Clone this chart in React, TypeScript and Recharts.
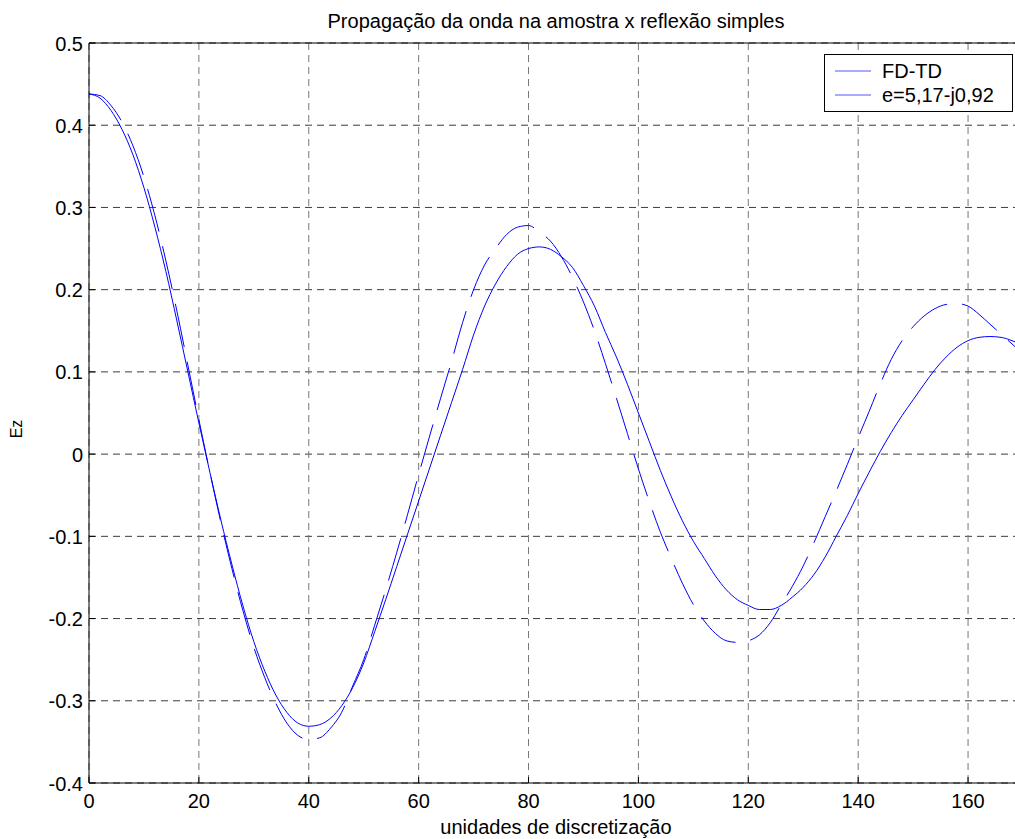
import { LineChart, Line, XAxis, YAxis, CartesianGrid, ReferenceLine } from 'recharts';

const FONT = '"Liberation Sans", Arial, Helvetica, sans-serif';

// sample positions (discretization units)
const steps = [
  0, 2, 4, 6, 8, 10, 12, 14, 16, 18, 20, 22, 24, 26, 28, 30, 32, 34, 36, 38,
  40, 42, 44, 46, 48, 50, 52, 54, 56, 58, 60, 62, 64, 66, 68, 70, 72, 74, 76, 78,
  80, 82, 84, 86, 88, 90, 92, 94, 96, 98, 100, 102, 104, 106, 108, 110, 112, 114, 116, 118,
  120, 122, 124, 126, 128, 130, 132, 134, 136, 138, 140, 142, 144, 146, 148, 150, 152, 154, 156, 158,
  160, 162, 164, 166, 168, 170,
];

// FD-TD field
const fdtd = [
  0.438, 0.433, 0.418, 0.395, 0.364, 0.324, 0.276, 0.222, 0.162, 0.1, 0.038, -0.022, -0.08, -0.134, -0.184, -0.228, -0.264, -0.293, -0.314, -0.327,
  -0.331, -0.329, -0.321, -0.306, -0.284, -0.254, -0.216, -0.177, -0.137, -0.097, -0.057, -0.017, 0.023, 0.063, 0.103, 0.145, 0.18, 0.207, 0.228, 0.243,
  0.25, 0.252, 0.249, 0.24, 0.227, 0.205, 0.18, 0.148, 0.118, 0.085, 0.05, 0.015, -0.02, -0.052, -0.081, -0.106, -0.127, -0.148, -0.165, -0.177,
  -0.184, -0.189, -0.189, -0.184, -0.174, -0.162, -0.146, -0.125, -0.1, -0.075, -0.048, -0.022, 0.003, 0.026, 0.047, 0.066, 0.085, 0.103, 0.118, 0.13,
  0.138, 0.142, 0.143, 0.142, 0.138, 0.132,
];

// simple reflection model, e = 5,17 - j0,92
const simple = [
  0.438, 0.436, 0.424, 0.404, 0.375, 0.337, 0.29, 0.235, 0.174, 0.108, 0.042, -0.022, -0.083, -0.139, -0.19, -0.235, -0.272, -0.303, -0.327, -0.342,
  -0.347, -0.345, -0.333, -0.314, -0.282, -0.25, -0.208, -0.165, -0.12, -0.073, -0.025, 0.022, 0.068, 0.113, 0.16, 0.2, 0.23, 0.25, 0.267, 0.276,
  0.278, 0.27, 0.259, 0.24, 0.215, 0.185, 0.15, 0.11, 0.068, 0.025, -0.018, -0.058, -0.095, -0.127, -0.157, -0.183, -0.203, -0.218, -0.227, -0.229,
  -0.227, -0.22, -0.205, -0.183, -0.161, -0.136, -0.107, -0.076, -0.045, -0.013, 0.02, 0.052, 0.085, 0.115, 0.138, 0.155, 0.168, 0.177, 0.182, 0.183,
  0.18, 0.17, 0.158, 0.146, 0.134, 0.122,
];

const xTicks = [0, 20, 40, 60, 80, 100, 120, 140, 160];
const yTicks = [-0.4, -0.3, -0.2, -0.1, 0, 0.1, 0.2, 0.3, 0.4, 0.5];

const seriesNames = ['FD-TD', 'e=5,17-j0,92'];

const data = steps.map((x, i) => ({ x, fdtd: fdtd[i], simple: simple[i] }));

const PLOT_LEFT = 89;
const PLOT_TOP = 43;
const PLOT_BOTTOM = 783;

const fmt = (v: number) => {
  const r = Math.round(v * 10) / 10;
  return r === 0 ? '0' : String(r);
};

const YTick = ({ x, y, payload }: any) => (
  <g>
    <line x1={PLOT_LEFT} x2={PLOT_LEFT + 6} y1={y} y2={y} stroke="#000" />
    <text x={x} y={y + 7.5} textAnchor="end" fontSize={20} fontFamily={FONT} fill="#000">
      {fmt(payload.value)}
    </text>
  </g>
);

const XTick = ({ x, y, payload }: any) => (
  <g>
    <line x1={x} x2={x} y1={PLOT_BOTTOM} y2={PLOT_BOTTOM - 6} stroke="#000" />
    <text x={x} y={y + 19} textAnchor="middle" fontSize={20} fontFamily={FONT} fill="#000">
      {payload.value}
    </text>
  </g>
);

export default function App() {
  return (
    <div style={{ position: 'fixed', left: 0, top: 0, width: 1015, height: 839, overflow: 'hidden', background: '#fff' }}>
      <LineChart
        width={1030}
        height={839}
        data={data}
        margin={{ top: PLOT_TOP, right: 7, bottom: 0, left: 0 }}
      >
        <CartesianGrid vertical={false} stroke="#3c3c3c" strokeDasharray="7 5" horizontalValues={yTicks} />
        <CartesianGrid horizontal={false} stroke="#777" strokeDasharray="7 5" verticalValues={xTicks} />
        <XAxis
          dataKey="x"
          type="number"
          domain={[0, 170]}
          ticks={xTicks}
          allowDataOverflow
          height={839 - PLOT_BOTTOM}
          tickLine={false}
          tickSize={6}
          tickMargin={0}
          stroke="#000"
          tick={<XTick />}
        />
        <YAxis
          type="number"
          domain={[-0.4, 0.5]}
          ticks={yTicks}
          allowDataOverflow
          width={PLOT_LEFT}
          tickLine={false}
          tickSize={6}
          tickMargin={0}
          stroke="#000"
          tick={<YTick />}
        />
        <ReferenceLine y={0.5} stroke="#000" />
        <Line
          dataKey="fdtd"
          name={seriesNames[0]}
          type="monotone"
          stroke="#0000ff"
          strokeWidth={1}
          dot={false}
          isAnimationActive={false}
        />
        <Line
          dataKey="simple"
          name={seriesNames[1]}
          type="monotone"
          stroke="#0000ff"
          strokeWidth={1}
          strokeDasharray="44 15"
          dot={false}
          isAnimationActive={false}
        />
        <text x={556} y={27.5} textAnchor="middle" fontSize={20} fontFamily={FONT} fill="#000">
          Propagação da onda na amostra x reflexão simples
        </text>
        <text x={556} y={834} textAnchor="middle" fontSize={20} fontFamily={FONT} fill="#000">
          unidades de discretização
        </text>
        <text transform="rotate(-90 22 429)" x={22} y={429} textAnchor="middle" fontSize={16} fontFamily={FONT} fill="#000">
          E<tspan fontSize={16}>z</tspan>
        </text>
        <g>
          <rect x={824.5} y={54.5} width={188} height={57} fill="#fff" stroke="#000" />
          <line x1={835} x2={871} y1={71} y2={71} stroke="#5555ff" />
          <line x1={835} x2={871} y1={95} y2={95} stroke="#5555ff" />
          <text x={882} y={78} fontSize={20} fontFamily={FONT} fill="#000">{seriesNames[0]}</text>
          <text x={882} y={102} fontSize={20} fontFamily={FONT} fill="#000">{seriesNames[1]}</text>
        </g>
      </LineChart>
    </div>
  );
}
